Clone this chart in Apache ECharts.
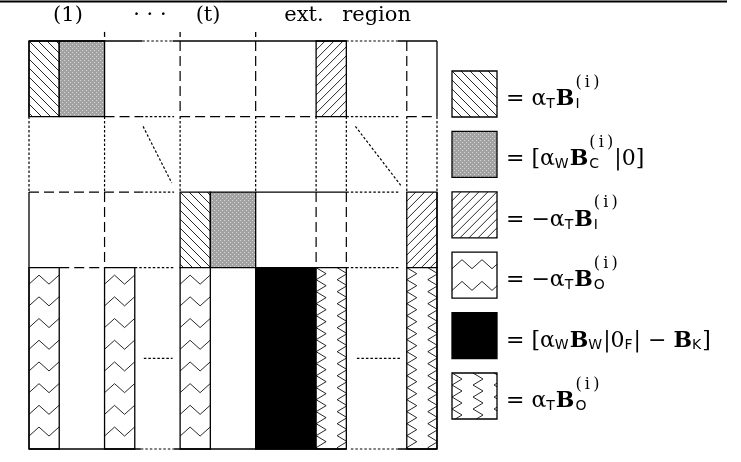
<!DOCTYPE html>
<html><head><meta charset="utf-8">
<script src="https://cdn.jsdelivr.net/npm/echarts@6/dist/echarts.min.js"></script>
<style>html,body{margin:0;padding:0;background:#fff}#c{width:741px;height:462px}</style>
</head><body><div id="c"></div>
<script>
// ---------- data (matrix units: the block matrix is 27 x 27 units) ----------
const blockX0 = [0, 2, 19, 10, 12, 25, 0, 5, 10, 15, 19, 25];
const blockX1 = [2, 5, 21, 12, 15, 27, 2, 7, 12, 19, 21, 27];
const blockY0 = [0, 0, 0, 10, 10, 10, 15, 15, 15, 15, 15, 15];
const blockY1 = [5, 5, 5, 15, 15, 15, 27, 27, 27, 27, 27, 27];
const blockKind = ['hatchBack','gray','hatchFwd','hatchBack','gray','hatchFwd','zigH','zigH','zigH','black','zigV','zigV'];

// separator lines: [x0, y0, x1, y1], kind s=solid d=dashed o=dotted
const sepLines = [
  [0,0,7.5,0],[7.5,0,9.5,0],[9.5,0,21,0],[21,0,24.4,0],[24.4,0,27,0],
  [0,27,7.4,27],[7.4,27,9.6,27],[9.6,27,21,27],[21.3,27,24.4,27],[24.4,27,27,27],
  [0,0,0,5],[0,5,0,10],[0,10,0,27],
  [27,0,27,5],[27,5,27,10],[27,10,27,27],
  [5,5,5,10],[5,10,5,15],
  [10,0,10,5],[10,5,10,10],
  [15,0,15,5],[15,5,15,10],
  [19,5,19,10],[19,10,19,15],
  [21,5,21,10],[21,10,21,15],
  [25,0,25,5],[25,5,25,10],
  [5,5,7.4,5],[7.4,5,9.6,5],[10,5,19,5],[21,5,24.5,5],[25,5,27,5],
  [0,10,7.4,10],[7.4,10,9.6,10],[15,10,21,10],[21,10,24.5,10],
  [2,15,5,15],[7,15,9.6,15],[21,15,24.5,15],
  [7.55,5.65,9.45,9.4],[21.6,5.65,24.6,9.55],
  [7.6,21,9.5,21],[21.7,21,24.55,21],
  [5,-0.6,5,-0.27],[10,-0.6,10,-0.27],[15,-0.6,15,-0.27]
];
const sepKind = [
  's','o','s','o','s',
  's','o','s','o','s',
  's','o','s',
  's','o','s',
  'o','d',
  'd','o',
  'd','o',
  'o','d',
  'o','d',
  'd','o',
  'd','o','d','o','d',
  'd','o','s','o',
  'd','o','o',
  'o','o',
  'o','o',
  's','s','s'
];

const topLabels = ['(1)', '· · ·', '(t)', 'ext.', 'region'];
const topLabelX = [2.58, 8.0, 11.85, 18.2, 23.0];

const legendKinds = ['hatchBack','gray','hatchFwd','zigH','black','zigV'];
const legendLabels = [
  '= α_{T}B_{I}^{(\u2009i\u2009)}',
  '= [α_{W}B_{C}^{(\u2009i\u2009)}|0]',
  '= −α_{T}B_{I}^{(\u2009i\u2009)}',
  '= −α_{T}B_{O}^{(\u2009i\u2009)}',
  '= [α_{W}B_{W}|0_{F}| − B_{K}]',
  '= α_{T}B_{O}^{(\u2009i\u2009)}'
];

// ---------- helpers ----------
const gc = document.createElement('canvas'); gc.width = 4; gc.height = 4;
(function(){ const g = gc.getContext('2d'); g.fillStyle = '#a2a2a2'; g.fillRect(0,0,4,4);
  g.fillStyle = '#d8d8d8'; g.fillRect(0,0,1,1); g.fillRect(2,2,1,1); })();
const grayPattern = { image: gc, repeat: 'repeat' };

function clip(x1, y1, x2, y2, r) {
  let t0 = 0, t1 = 1; const dx = x2 - x1, dy = y2 - y1;
  const p = [-dx, dx, -dy, dy], q = [x1 - r[0], r[2] - x1, y1 - r[1], r[3] - y1];
  for (let i = 0; i < 4; i++) {
    if (p[i] === 0) { if (q[i] < 0) return null; }
    else { const t = q[i] / p[i];
      if (p[i] < 0) { if (t > t1) return null; if (t > t0) t0 = t; }
      else { if (t < t0) return null; if (t < t1) t1 = t; } }
  }
  return [x1 + t0 * dx, y1 + t0 * dy, x1 + t1 * dx, y1 + t1 * dy];
}

function patternPath(kind, x0, y0, x1, y1) {
  const r = [x0, y0, x1, y1]; const segs = [];
  const add = (a, b, c, d) => { const s = clip(a, b, c, d, r); if (s) segs.push(s); };
  if (kind === 'hatchBack') {
    const s = 9;
    for (let k = (x0 - y0) - Math.ceil((y1 - y0) / s + 1) * s; k <= x1 - y0 + s; k += s)
      add(y0 - 5 + k, y0 - 5, y1 + 5 + k, y1 + 5);
  } else if (kind === 'hatchFwd') {
    const s = 9;
    for (let k = x0 + y0; k <= x1 + y1 + s; k += s)
      add(k - y0 + 5, y0 - 5, k - y1 - 5, y1 + 5);
  } else if (kind === 'zigH') {
    const p = 20, a = 9, sp = 21.7;
    for (let yr = y0 + 12; yr < y1 + a; yr += sp) {
      for (let i = 0, x = x0; x < x1; i++, x += p / 2) {
        const ya = yr + (i % 2 ? -a / 2 : a / 2), yb = yr + (i % 2 ? a / 2 : -a / 2);
        add(x, ya, x + p / 2, yb);
      }
    }
  } else if (kind === 'zigV') {
    const p = 12, a = 10, sp = 21;
    for (let xc = x0; xc < x1; xc += sp) {
      for (let i = 0, y = y0; y < y1; i++, y += p / 2) {
        const xa = xc + (i % 2 ? a : 0), xb = xc + (i % 2 ? 0 : a);
        add(xa, y, xb, y + p / 2);
      }
    }
  }
  if (!segs.length) return null;
  return segs.map(s => 'M' + s[0].toFixed(2) + ' ' + s[1].toFixed(2) + 'L' + s[2].toFixed(2) + ' ' + s[3].toFixed(2)).join('');
}

function patternBox(kind, ax, ay, bx, by) {
  const x0 = Math.min(ax, bx), x1 = Math.max(ax, bx), y0 = Math.min(ay, by), y1 = Math.max(ay, by);
  const shape = { x: x0, y: y0, width: x1 - x0, height: y1 - y0 };
  const children = [];
  const fill = kind === 'black' ? '#000' : (kind === 'gray' ? grayPattern : '#fff');
  children.push({ type: 'rect', shape: shape, style: { fill: fill } });
  const d = patternPath(kind, x0, y0, x1, y1);
  if (d) children.push({ type: 'path', shape: { pathData: d }, style: { fill: null, stroke: '#111', lineWidth: 0.9 } });
  children.push({ type: 'rect', shape: shape, style: { fill: null, stroke: '#000', lineWidth: 1.3 } });
  return { type: 'group', children: children };
}

const mctx = document.createElement('canvas').getContext('2d');
const FONTS = {
  n: { f: "22px 'DejaVu Serif'", size: 22 },
  b: { f: "bold 22px 'DejaVu Serif'", size: 22 },
  sub: { f: "14px 'DejaVu Sans'", size: 14 },
  sup: { f: "16px 'DejaVu Serif'", size: 16 }
};
function parseLabel(s) {
  const toks = []; let buf = '';
  const flush = () => {
    if (!buf) return;
    let cur = '', bold = null;
    for (const ch of buf) { const b = ch === 'B';
      if (bold !== null && b !== bold) { toks.push({ t: cur, k: bold ? 'b' : 'n' }); cur = ''; }
      bold = b; cur += ch; }
    if (cur) toks.push({ t: cur, k: bold ? 'b' : 'n' });
    buf = '';
  };
  for (let i = 0; i < s.length;) {
    const c = s[i];
    if ((c === '_' || c === '^') && s[i + 1] === '{') {
      flush(); const j = s.indexOf('}', i);
      toks.push({ t: s.slice(i + 2, j), k: c === '_' ? 'sub' : 'sup' }); i = j + 1;
    } else { buf += c; i++; }
  }
  flush();
  return toks;
}
function textEl(t, kind, x, base) {
  const F = FONTS[kind]; mctx.font = F.f;
  const w = mctx.measureText(t).width;
  return { w: w, el: { type: 'text', x: x, y: base - 0.35 * F.size,
    style: { text: t, font: F.f, fill: '#000', align: 'left', verticalAlign: 'middle', textAlign: 'left', textVerticalAlign: 'middle' } } };
}
function labelEls(s, x, base) {
  const toks = parseLabel(s); const els = [];
  for (let i = 0; i < toks.length; i++) {
    const t = toks[i];
    if (t.k === 'sub' && toks[i + 1] && toks[i + 1].k === 'sup') {
      const a = textEl(t.t, 'sub', x + 1, base + 2), b = textEl(toks[i + 1].t, 'sup', x + 1, base - 19);
      els.push(a.el, b.el); x += Math.max(a.w, b.w) + 2; i++;
    } else if (t.k === 'sub') {
      const a = textEl(t.t, 'sub', x, base + 2); els.push(a.el); x += a.w + 1;
    } else if (t.k === 'sup') {
      const a = textEl(t.t, 'sup', x, base - 12); els.push(a.el); x += a.w;
    } else {
      const a = textEl(t.t, t.k, x, base); els.push(a.el); x += a.w;
    }
  }
  return els;
}

// ---------- chart ----------
const chart = echarts.init(document.getElementById('c'), null, { renderer: 'canvas' });
const LEG_H = 46 / 60.4;
chart.setOption({
  animation: false,
  backgroundColor: '#fff',
  grid: [
    { left: 29, top: 41, width: 408, height: 408 },
    { left: 452, top: 71, width: 45, height: 362.4 }
  ],
  xAxis: [
    { type: 'value', min: 0, max: 27, show: false, gridIndex: 0 },
    { type: 'value', min: 0, max: 1, show: false, gridIndex: 1 }
  ],
  yAxis: [
    { type: 'value', min: 0, max: 27, inverse: true, show: false, gridIndex: 0 },
    { type: 'value', min: 0, max: 6, inverse: true, show: false, gridIndex: 1 }
  ],
  graphic: [
    { type: 'line', shape: { x1: 0, y1: 1.5, x2: 727, y2: 1.5 }, style: { stroke: '#000', lineWidth: 2 } }
  ],
  series: [
    {
      type: 'custom', xAxisIndex: 0, yAxisIndex: 0, clip: false, silent: true,
      data: blockX0.map((v, i) => [v, blockX1[i], blockY0[i], blockY1[i]]),
      encode: { x: [0, 1], y: [2, 3] },
      renderItem: function (params, api) {
        const p0 = api.coord([api.value(0), api.value(2)]);
        const p1 = api.coord([api.value(1), api.value(3)]);
        return patternBox(blockKind[params.dataIndex], p0[0], p0[1], p1[0], p1[1]);
      }
    },
    {
      type: 'custom', xAxisIndex: 0, yAxisIndex: 0, clip: false, silent: true,
      data: sepLines,
      encode: { x: [0, 2], y: [1, 3] },
      renderItem: function (params, api) {
        const a = api.coord([api.value(0), api.value(1)]);
        const b = api.coord([api.value(2), api.value(3)]);
        const k = sepKind[params.dataIndex];
        return { type: 'line', shape: { x1: a[0], y1: a[1], x2: b[0], y2: b[1] },
          style: { stroke: '#000', lineWidth: k === 's' ? 1.3 : 1.2,
                   lineDash: k === 'd' ? [10, 5] : (k === 'o' ? [2.5, 2] : null) } };
      }
    },
    {
      type: 'custom', xAxisIndex: 0, yAxisIndex: 0, clip: false, silent: true,
      data: topLabelX.map(v => [v, -1.7]),
      renderItem: function (params, api) {
        const p = api.coord([api.value(0), api.value(1)]);
        return { type: 'text', x: p[0], y: p[1],
          style: { text: topLabels[params.dataIndex], font: "21px 'DejaVu Serif'", fill: '#000',
                   align: 'center', verticalAlign: 'middle', textAlign: 'center', textVerticalAlign: 'middle' } };
      }
    },
    {
      type: 'custom', xAxisIndex: 1, yAxisIndex: 1, clip: false, silent: true,
      data: legendKinds.map((k, i) => [0, i]),
      renderItem: function (params, api) {
        const i = params.dataIndex;
        const p0 = api.coord([0, i]);
        const p1 = api.coord([1, i + LEG_H]);
        const box = patternBox(legendKinds[i], p0[0], p0[1], p1[0], p1[1]);
        const txt = labelEls(legendLabels[i], p1[0] + 9, p0[1] + 36);
        return { type: 'group', children: [box].concat(txt) };
      }
    }
  ]
});
</script>
</body></html>
